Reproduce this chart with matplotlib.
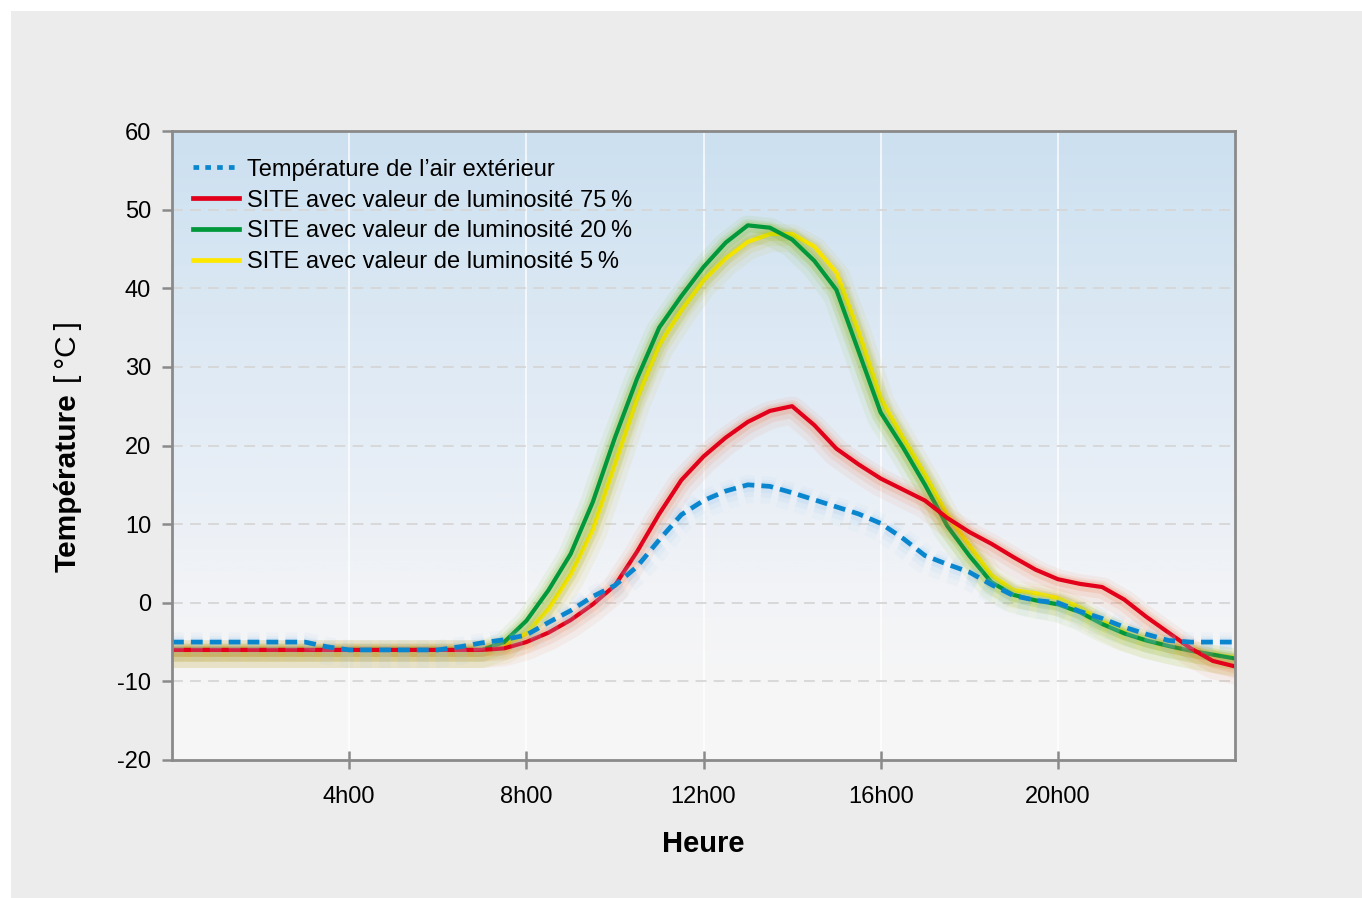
import numpy as np
import matplotlib
matplotlib.use("Agg")
import matplotlib.pyplot as plt
from matplotlib.lines import Line2D
from matplotlib.patches import Rectangle
from matplotlib.colors import LinearSegmentedColormap
import matplotlib.patheffects as pe

plt.rcParams['font.family'] = ['Liberation Sans', 'DejaVu Sans']
plt.rcParams['axes.unicode_minus'] = False

# ---------------- data ----------------
hours = [0, 0.5, 1, 1.5, 2, 2.5, 3, 3.5, 4, 4.5, 5, 5.5, 6, 6.5, 7, 7.5, 8, 8.5,
         9, 9.5, 10, 10.5, 11, 11.5, 12, 12.5, 13, 13.5, 14, 14.5, 15, 15.5, 16,
         16.5, 17, 17.5, 18, 18.5, 19, 19.5, 20, 20.5, 21, 21.5, 22, 22.5, 23,
         23.5, 24]

air_ext = [-5, -5, -5, -5, -5, -5, -5, -5.6, -6, -6, -6, -6, -6, -5.6, -5.1, -4.7,
           -4.1, -2.5, -1.0, 0.8, 2.2, 4.6, 8.0, 11.2, 13.0, 14.2, 15.0, 14.8, 14.0,
           13.1, 12.2, 11.3, 10.1, 8.2, 6.0, 4.9, 3.9, 2.3, 0.9, 0.3, 0.0, -1.1, -2.0,
           -3.1, -4.0, -4.8, -5.0, -5.0, -5.0]

site_75 = [-6, -6, -6, -6, -6, -6, -6, -6, -6, -6, -6, -6, -6, -6, -6, -5.8, -5.0,
           -3.8, -2.2, -0.2, 2.2, 6.5, 11.3, 15.6, 18.6, 21.0, 23.0, 24.4, 25.0, 22.6,
           19.6, 17.6, 15.8, 14.4, 13.0, 10.8, 9.0, 7.5, 5.8, 4.2, 3.0, 2.4, 2.0, 0.4,
           -1.8, -3.8, -5.8, -7.4, -8.1]

site_20 = [-6, -6, -6, -6, -6, -6, -6, -6, -6, -6, -6, -6, -6, -6, -6, -5.0, -2.3,
           1.6, 6.2, 12.8, 21.0, 28.5, 35.0, 39.0, 42.7, 45.8, 48.0, 47.7, 46.2, 43.5,
           39.8, 32.0, 24.2, 19.8, 15.0, 9.8, 6.0, 2.6, 1.0, 0.3, -0.2, -1.2, -2.7,
           -3.9, -4.8, -5.5, -6.1, -6.6, -7.1]

site_5 = [-6, -6, -6, -6, -6, -6, -6, -6, -6, -6, -6, -6, -6, -6, -6, -5.5, -3.9,
          -0.8, 3.6, 9.3, 17.6, 26.0, 32.8, 37.2, 41.0, 43.8, 45.9, 46.9, 46.9, 45.3,
          42.0, 34.5, 26.0, 21.0, 16.3, 11.2, 7.3, 3.5, 1.6, 1.2, 0.6, -0.6, -2.4,
          -3.8, -4.8, -5.5, -6.1, -6.6, -7.0]

labels = ["Température de l\u2019air extérieur",
          "SITE avec valeur de luminosité 75\u2009%",
          "SITE avec valeur de luminosité 20\u2009%",
          "SITE avec valeur de luminosité 5\u2009%"]

x_ticks = [4, 8, 12, 16, 20]
x_ticklabels = ["4h00", "8h00", "12h00", "16h00", "20h00"]
y_ticks = [-20, -10, 0, 10, 20, 30, 40, 50, 60]

# ---------------- figure ----------------
fig = plt.figure(figsize=(13.62, 8.98), dpi=100, facecolor="white")
fig.patches.append(Rectangle((11 / 1362, 0.0), 1.0, 1 - 11 / 898,
                             transform=fig.transFigure, facecolor="#ececec",
                             edgecolor="none", zorder=-10))

ax = fig.add_axes([172 / 1362, 1 - 760 / 898, (1235 - 172) / 1362, (760 - 131) / 898])
ax.set_facecolor("none")
ax.set_xlim(0, 24)
ax.set_ylim(-20, 60)

# gradient background
cmap = LinearSegmentedColormap.from_list("bg", [
    (0.0, "#f7f7f7"), (0.12, "#f6f6f7"), (0.28, "#f1f3f6"),
    (0.5, "#e5edf6"), (0.75, "#d9e7f3"), (1.0, "#cce0f0")])
grad = np.linspace(0, 1, 256).reshape(-1, 1)
ax.imshow(grad, cmap=cmap, origin="lower", aspect="auto",
          extent=[0, 1, 0, 1], transform=ax.transAxes, zorder=0)

# grids
for xv in x_ticks:
    ax.axvline(xv, color="white", lw=1.5, alpha=0.7, zorder=1)
for yv in y_ticks[1:-1]:
    ax.axhline(yv, color="#d6d6d6", lw=1.3, dashes=(6, 4), zorder=1)

def glow(color):
    return [pe.Stroke(offset=(0, -3), linewidth=20, foreground=color, alpha=0.07),
            pe.Stroke(offset=(0, -2), linewidth=13, foreground=color, alpha=0.10),
            pe.Stroke(offset=(0, -1), linewidth=8, foreground=color, alpha=0.16),
            pe.Normal()]

c_blue, c_red, c_green, c_yel = "#0a86cf", "#e2001a", "#00983a", "#ffe800"

ax.plot(hours, site_5, color=c_yel, lw=3.0, zorder=3, solid_joinstyle="round",
        path_effects=glow("#c8b000"))
ax.plot(hours, site_20, color=c_green, lw=3.0, zorder=4, solid_joinstyle="round",
        path_effects=glow("#6ab400"))
ax.plot(hours, site_75, color=c_red, lw=3.0, zorder=5, solid_joinstyle="round",
        path_effects=glow("#f06a30"))
ax.plot(hours, air_ext, color=c_blue, lw=3.4, zorder=6, dashes=(2.5, 1.5),
        path_effects=glow("#9cc8ee"), dash_capstyle="butt")

# spines / ticks
for s in ax.spines.values():
    s.set_color("#8a8a8a")
    s.set_linewidth(2.0)
    s.set_zorder(7)
ax.set_xticks(x_ticks)
ax.set_xticklabels(x_ticklabels)
ax.set_yticks(y_ticks)
ax.set_yticklabels([str(v) for v in y_ticks])
ax.tick_params(axis="x", direction="inout", length=13, width=1.8, color="#8a8a8a",
               labelsize=17, pad=12)
ax.tick_params(axis="y", direction="out", length=7, width=1.8, color="#8a8a8a",
               labelsize=17, pad=8)

ax.set_xlabel("Heure", fontsize=21, fontweight="bold", labelpad=16)
fig.text(68 / 1362, 1 - 483 / 898, "Température", rotation=90, fontsize=21.5,
         fontweight="bold", ha="center", va="center")
fig.text(68 / 1362, 1 - 352 / 898, "[\u2009°C\u2009]", rotation=90, fontsize=21.5,
         ha="center", va="center")

handles = [Line2D([], [], color=c_blue, lw=3.4, dashes=(1.2, 1.3)),
           Line2D([], [], color=c_red, lw=3.4),
           Line2D([], [], color=c_green, lw=3.4),
           Line2D([], [], color=c_yel, lw=3.4)]
leg = ax.legend(handles, labels, loc="upper left", frameon=False, fontsize=17,
                handlelength=1.95, handletextpad=0.34, labelspacing=0.38,
                borderaxespad=0.5, bbox_to_anchor=(0.0, 0.99))
leg.set_zorder(8)

fig.savefig("out.png", dpi=100, facecolor="white")
